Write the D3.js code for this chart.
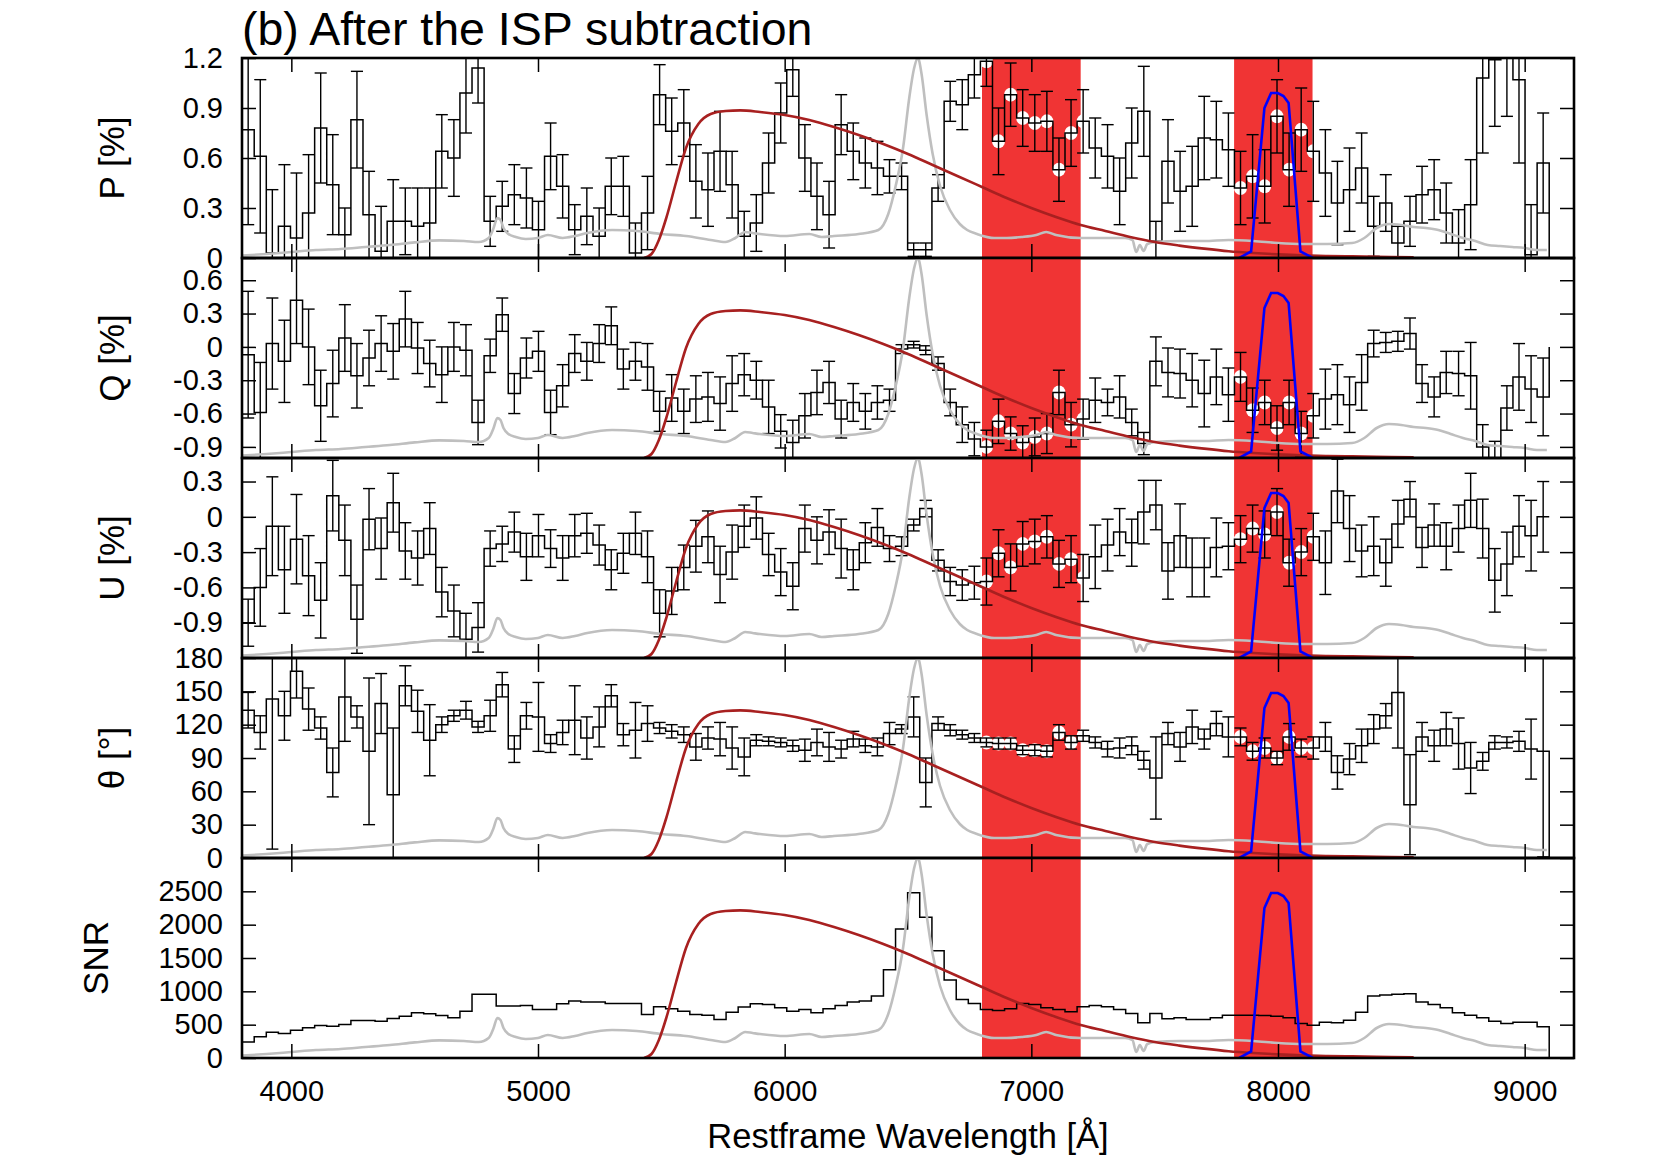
<!DOCTYPE html>
<html><head><meta charset="utf-8">
<script src="https://cdn.jsdelivr.net/npm/d3@7"></script>
<style>body{margin:0;background:#fff} text{font-family:"Liberation Sans",Arial,Helvetica,sans-serif;fill:#000}</style>
</head><body>
<svg id="c" width="1661" height="1163" xmlns="http://www.w3.org/2000/svg"></svg>
<script>
// ---------------- data ----------------
const binCenters = [3825,3874,3923,3972,4021,4070,4119,4168,4217,4266,4315,4364,4413,4462,4512,4561,4610,4659,4708,4757,4806,4855,4904,4953,5002,5051,5100,5149,5198,5248,5297,5346,5395,5444,5493,5542,5591,5640,5689,5738,5787,5836,5885,5935,5984,6033,6082,6131,6180,6229,6278,6327,6376,6425,6474,6523,6572,6622,6671,6720,6769,6818,6867,6916,6965,7014,7063,7112,7161,7210,7259,7309,7358,7407,7456,7505,7554,7603,7652,7701,7750,7799,7848,7897,7946,7996,8045,8094,8143,8192,8241,8290,8339,8388,8437,8486,8535,8584,8633,8682,8732,8781,8830,8879,8928,8977,9026,9075];

const pVal = [0.77,0.61,0.03,0.19,0.12,0.27,0.78,0.44,0.14,0.83,0.26,0.04,0.22,0.22,0.19,0.21,0.64,0.60,0.99,1.14,0.22,0.31,0.38,0.36,0.17,0.61,0.43,0.17,0.25,0.13,0.43,0.43,0.03,0.27,0.98,0.76,0.81,0.46,0.41,0.64,0.44,0.13,0.21,0.57,0.87,1.13,0.60,0.37,0.26,0.80,0.64,0.57,0.54,0.49,0.49,0.05,0.05,0.42,0.94,0.92,1.10,1.18,0.70,0.98,0.84,0.81,0.82,0.53,0.75,0.82,0.66,0.61,0.40,0.69,0.88,0.10,0.58,0.40,0.43,0.72,0.71,0.65,0.42,0.49,0.43,0.85,0.53,0.77,0.64,0.51,0.33,0.41,0.54,0.19,0.33,0.09,0.22,0.38,0.41,0.27,0.09,0.32,1.08,1.19,1.35,1.07,0.02,0.57];
const pErr = [0.57,0.46,0.38,0.37,0.39,0.35,0.33,0.30,0.16,0.29,0.26,0.27,0.25,0.20,0.23,0.21,0.22,0.23,0.24,0.21,0.15,0.15,0.18,0.18,0.17,0.20,0.19,0.15,0.17,0.17,0.17,0.18,0.18,0.22,0.18,0.20,0.20,0.22,0.22,0.24,0.20,0.15,0.17,0.18,0.18,0.16,0.20,0.20,0.20,0.18,0.17,0.15,0.16,0.10,0.08,0.04,0.04,0.08,0.12,0.15,0.14,0.15,0.20,0.19,0.17,0.17,0.18,0.19,0.20,0.19,0.18,0.19,0.20,0.21,0.27,0.12,0.25,0.24,0.24,0.25,0.23,0.22,0.22,0.25,0.22,0.22,0.22,0.25,0.30,0.26,0.25,0.25,0.21,0.18,0.17,0.10,0.15,0.17,0.18,0.18,0.20,0.27,0.45,0.40,0.50,0.50,0.30,0.30];

const qVal = [-0.07,-0.59,0.03,-0.13,0.42,0.00,-0.53,-0.33,0.08,-0.26,-0.10,0.03,-0.04,0.25,-0.01,-0.15,-0.25,0.00,-0.03,-0.68,-0.08,0.29,-0.42,-0.10,-0.04,-0.59,-0.35,-0.06,-0.13,0.03,0.19,-0.20,-0.13,-0.18,-0.58,-0.46,-0.58,-0.47,-0.45,-0.51,-0.33,-0.25,-0.30,-0.54,-0.76,-0.86,-0.62,-0.41,-0.32,-0.65,-0.50,-0.58,-0.50,-0.48,-0.02,0.02,-0.03,-0.15,-0.50,-0.70,-0.83,-0.90,-0.67,-0.78,-0.86,-0.81,-0.78,-0.41,-0.70,-0.65,-0.48,-0.50,-0.45,-0.68,-0.87,-0.13,-0.23,-0.24,-0.30,-0.42,-0.27,-0.43,-0.27,-0.57,-0.50,-0.73,-0.50,-0.78,-0.62,-0.47,-0.43,-0.52,-0.32,0.03,0.04,0.05,0.12,-0.33,-0.45,-0.23,-0.24,-0.26,-0.90,-1.05,-0.55,-0.27,-0.38,-0.45];
const qErr = [0.57,0.45,0.41,0.37,0.39,0.34,0.32,0.30,0.30,0.29,0.25,0.25,0.25,0.25,0.23,0.21,0.25,0.22,0.23,0.20,0.15,0.15,0.18,0.18,0.18,0.20,0.19,0.17,0.17,0.17,0.17,0.18,0.17,0.21,0.18,0.21,0.20,0.21,0.22,0.24,0.25,0.19,0.17,0.24,0.15,0.20,0.20,0.20,0.19,0.17,0.17,0.16,0.15,0.10,0.04,0.03,0.04,0.06,0.12,0.16,0.15,0.15,0.20,0.15,0.15,0.17,0.18,0.20,0.20,0.18,0.20,0.12,0.19,0.12,0.10,0.22,0.22,0.22,0.24,0.30,0.25,0.24,0.22,0.20,0.20,0.20,0.20,0.20,0.20,0.27,0.27,0.25,0.25,0.12,0.09,0.09,0.14,0.17,0.18,0.19,0.20,0.30,0.20,0.20,0.20,0.30,0.30,0.35];

const uVal = [-0.90,-0.60,-0.08,-0.45,-0.19,-0.50,-0.71,0.18,-0.20,-0.87,-0.02,-0.27,0.12,-0.29,-0.35,-0.10,-0.64,-0.80,-1.04,-0.94,-0.27,-0.23,-0.13,-0.34,-0.16,-0.27,-0.35,-0.16,-0.14,-0.24,-0.45,-0.31,-0.14,-0.34,-0.82,-0.63,-0.43,-0.25,-0.17,-0.49,-0.30,-0.08,-0.01,-0.32,-0.47,-0.59,-0.10,-0.20,-0.13,-0.27,-0.45,-0.22,-0.09,-0.27,-0.25,-0.07,0.07,-0.37,-0.55,-0.58,-0.56,-0.55,-0.31,-0.43,-0.23,-0.21,-0.17,-0.40,-0.36,-0.52,-0.34,-0.24,-0.13,-0.22,0.04,0.10,-0.46,-0.16,-0.43,-0.43,-0.26,-0.25,-0.19,-0.10,-0.15,0.04,-0.39,-0.30,-0.17,-0.39,0.22,-0.10,-0.29,-0.25,-0.39,-0.06,0.15,-0.26,-0.07,-0.25,-0.10,0.14,-0.10,-0.54,-0.40,-0.08,-0.16,0.00];
const uErr = [0.20,0.33,0.42,0.37,0.38,0.34,0.32,0.30,0.30,0.29,0.26,0.26,0.25,0.24,0.23,0.22,0.21,0.22,0.22,0.21,0.15,0.15,0.17,0.20,0.18,0.16,0.19,0.18,0.17,0.17,0.17,0.17,0.18,0.22,0.20,0.20,0.19,0.22,0.22,0.24,0.23,0.18,0.18,0.18,0.20,0.20,0.20,0.20,0.19,0.25,0.17,0.17,0.16,0.11,0.08,0.05,0.07,0.09,0.12,0.13,0.14,0.20,0.20,0.20,0.19,0.19,0.18,0.20,0.20,0.20,0.27,0.22,0.20,0.20,0.27,0.21,0.24,0.27,0.25,0.25,0.25,0.20,0.20,0.20,0.20,0.20,0.20,0.20,0.20,0.27,0.27,0.28,0.22,0.25,0.20,0.20,0.15,0.17,0.18,0.20,0.20,0.23,0.25,0.27,0.27,0.26,0.30,0.30];

const thVal = [133,113,143,128,168,134,117,77,145,127,96,139,57,155,132,106,120,128,133,118,128,156,98,128,127,103,113,124,108,118,146,111,115,121,117,114,111,100,108,107,99,91,106,105,104,101,97,104,100,98,107,101,100,112,116,127,68,121,115,111,108,104,103,103,97,97,96,113,104,110,104,98,99,101,88,72,112,100,118,107,121,109,109,96,99,90,109,99,99,109,77,89,101,116,128,149,48,109,101,116,103,81,87,104,104,105,98,96];
const thErr = [16,15,135,22,24,19,10,22,40,10,66,27,60,18,19,32,7,5,8,5,14,11,12,12,31,8,11,31,19,18,10,10,25,16,5,6,7,12,10,15,19,17,5,4,4,5,10,12,13,8,7,6,8,10,4,18,22,6,5,4,4,4,5,5,4,5,5,7,6,5,5,7,9,8,8,37,10,13,15,9,11,18,8,8,9,6,12,8,10,13,15,14,15,13,11,50,45,13,14,15,23,23,8,6,5,9,27,95];

const snrVal = [241,317,387,367,417,452,487,477,503,563,563,553,593,628,678,663,638,603,703,955,955,779,779,789,729,729,814,854,839,839,819,819,819,653,769,739,703,653,643,578,688,764,814,804,754,703,729,678,739,789,839,854,930,1322,1935,2477,2110,1608,1171,879,819,729,714,739,819,804,754,729,693,769,789,769,729,668,528,668,588,603,578,578,603,643,643,643,638,628,603,518,493,538,528,568,688,930,945,955,965,839,804,754,678,643,603,553,518,538,538,467];

// bins marked with white circles (inside the red bands)
const circledBins = [61,62,63,64,65,66,67,68,69,82,83,84,85,86,87,88];
const bands = [[6800, 7200], [7822, 8140]];

// scaled total-flux spectrum (grey), peak normalised to 1
const fluxWave = [3800,3900,4000,4100,4200,4300,4400,4500,4600,4700,4760,4800,4820,4835,4848,4860,4880,4910,4950,5000,5040,5100,5150,5200,5300,5400,5500,5600,5700,5760,5800,5840,5870,5900,6000,6100,6150,6200,6300,6380,6420,6450,6480,6505,6525,6540,6555,6575,6600,6630,6670,6710,6740,6780,6850,6900,6960,7020,7060,7100,7200,7300,7380,7410,7425,7440,7455,7470,7500,7600,7700,7800,7900,8000,8100,8200,8300,8350,8400,8450,8500,8550,8600,8650,8700,8750,8800,8850,8900,8950,9000,9050,9090];
const fluxVal = [0.012,0.02,0.03,0.04,0.045,0.055,0.065,0.078,0.088,0.085,0.08,0.1,0.15,0.2,0.19,0.15,0.12,0.105,0.095,0.1,0.115,0.1,0.11,0.125,0.14,0.135,0.12,0.11,0.09,0.08,0.1,0.13,0.125,0.12,0.11,0.12,0.105,0.11,0.12,0.14,0.22,0.36,0.55,0.8,0.95,1.0,0.92,0.72,0.52,0.36,0.24,0.17,0.14,0.12,0.1,0.1,0.105,0.115,0.13,0.115,0.1,0.1,0.1,0.09,0.03,0.065,0.035,0.07,0.08,0.085,0.085,0.09,0.085,0.075,0.07,0.07,0.075,0.1,0.15,0.17,0.165,0.155,0.15,0.14,0.12,0.1,0.085,0.065,0.06,0.055,0.05,0.04,0.04];

// broad filter transmission (dark red)
const redWave = [5430,5460,5490,5520,5560,5600,5650,5700,5760,5820,5900,6000,6100,6200,6300,6400,6500,6600,6700,6800,6900,7000,7100,7200,7300,7400,7500,7600,7700,7800,7900,8000,8100,8200,8300,8400,8550];
const redVal = [0,0.02,0.09,0.2,0.38,0.55,0.67,0.72,0.735,0.738,0.73,0.715,0.69,0.655,0.615,0.57,0.52,0.465,0.41,0.355,0.3,0.25,0.205,0.165,0.135,0.105,0.08,0.062,0.047,0.034,0.025,0.018,0.013,0.01,0.008,0.006,0.004];

// narrow filter transmission (blue)
const blueWave = [7843,7891,7945,7972,7999,8022,8043,8091,8141];
const blueVal = [0,0.033,0.75,0.825,0.825,0.81,0.775,0.033,0];

const xTicks = [4000,5000,6000,7000,8000,9000];
const pTicks = [0,0.3,0.6,0.9,1.2];
const qTicks = [-0.9,-0.6,-0.3,0,0.3,0.6];
const uTicks = [-0.9,-0.6,-0.3,0,0.3];
const thTicks = [0,30,60,90,120,150,180];
const snrTicks = [0,500,1000,1500,2000,2500];

// ---------------- drawing ----------------
const svg = d3.select("#c");
const L = 242, R = 1574, T = 58, PH = 200;
const FONT = "Liberation Sans, Arial, Helvetica, sans-serif";
const x = d3.scaleLinear().domain([3800, 9200]).range([L, R]);
const fmt = d => String(+(+d).toFixed(1));

const panels = [
  {label:"P [%]", dom:[0,1.2], ticks:pTicks, val:pVal, err:pErr, lx:124},
  {label:"Q [%]", dom:[-1.0,0.8], ticks:qTicks, val:qVal, err:qErr, lx:124},
  {label:"U [%]", dom:[-1.2,0.5], ticks:uTicks, val:uVal, err:uErr, lx:124},
  {label:"θ [°]", dom:[0,180], ticks:thTicks, val:thVal, err:thErr, lx:124},
  {label:"SNR", dom:[0,3000], ticks:snrTicks, val:snrVal, err:null, lx:108}
];

// bin edges from centres
const edges = [binCenters[0] - (binCenters[1]-binCenters[0])/2];
for (let i = 0; i < binCenters.length - 1; i++) edges.push((binCenters[i] + binCenters[i+1]) / 2);
edges.push(binCenters[binCenters.length-1] + (binCenters[binCenters.length-1] - binCenters[binCenters.length-2]) / 2);

const defs = svg.append("defs");

panels.forEach((p, i) => {
  const y0 = T + PH*i, y1 = y0 + PH;
  const y = d3.scaleLinear().domain(p.dom).range([y1, y0]);
  const f = d3.scaleLinear().domain([0,1]).range([y1, y0]);
  const cid = "clip" + i;
  defs.append("clipPath").attr("id", cid).append("rect")
    .attr("x", L).attr("y", y0).attr("width", R-L).attr("height", PH);
  const g = svg.append("g").attr("clip-path", `url(#${cid})`);

  // red bands
  g.selectAll("rect.band").data(bands).join("rect").attr("class","band")
    .attr("x", d => x(d[0])).attr("width", d => x(d[1]) - x(d[0]))
    .attr("y", y0).attr("height", PH).attr("fill", "#f03434");

  // white circles
  if (p.err) {
    g.selectAll("ellipse").data(circledBins).join("ellipse")
      .attr("cx", k => x(binCenters[k])).attr("cy", k => y(p.val[k]))
      .attr("rx", 6.5).attr("ry", 7).attr("fill", "#fff");
  }

  // histogram steps
  let d = `M${x(edges[0])},${y(p.val[0])}`;
  p.val.forEach((v, k) => {
    if (k > 0) d += `V${y(v)}`;
    d += `H${x(edges[k+1])}`;
  });
  d += `V${y(0)}`;
  g.append("path").attr("d", d).attr("fill","none").attr("stroke","#000").attr("stroke-width",1.5);

  // error bars
  if (p.err) {
    const eb = g.append("g").attr("stroke","#000").attr("stroke-width",1.4).attr("fill","none");
    p.val.forEach((v, k) => {
      const e = p.err[k];
      const cx = x(binCenters[k]);
      const hw = (x(edges[k+1]) - x(edges[k])) / 2;
      eb.append("line").attr("x1",cx).attr("x2",cx).attr("y1",y(v-e)).attr("y2",y(v+e));
      eb.append("line").attr("x1",cx-hw).attr("x2",cx+hw).attr("y1",y(v-e)).attr("y2",y(v-e));
      eb.append("line").attr("x1",cx-hw).attr("x2",cx+hw).attr("y1",y(v+e)).attr("y2",y(v+e));
    });
  }

  // grey flux spectrum
  const flux = fluxWave.map((w, j) => [w, fluxVal[j]]);
  g.append("path").datum(flux)
    .attr("d", d3.line().x(q => x(q[0])).y(q => f(q[1])).curve(d3.curveMonotoneX))
    .attr("fill","none").attr("stroke","#bfbfbf").attr("stroke-width",2.6);

  // red filter curve
  const red = redWave.map((w, j) => [w, redVal[j]]);
  g.append("path").datum(red)
    .attr("d", d3.line().x(q => x(q[0])).y(q => f(q[1])).curve(d3.curveMonotoneX))
    .attr("fill","none").attr("stroke","#a82020").attr("stroke-width",2.6);

  // blue filter curve
  const blue = blueWave.map((w, j) => [w, blueVal[j]]);
  g.append("path").datum(blue)
    .attr("d", d3.line().x(q => x(q[0])).y(q => f(q[1])))
    .attr("fill","none").attr("stroke","#0000ff").attr("stroke-width",2.6);

  // axes (inward ticks)
  const ax = svg.append("g");
  const la = ax.append("g").attr("transform", `translate(${L},0)`)
    .call(d3.axisLeft(y).tickValues(p.ticks).tickSize(-14).tickPadding(19).tickFormat(fmt));
  const ra = ax.append("g").attr("transform", `translate(${R},0)`)
    .call(d3.axisRight(y).tickValues(p.ticks).tickSize(-14).tickFormat(""));
  const ta = ax.append("g").attr("transform", `translate(0,${y0})`)
    .call(d3.axisTop(x).tickValues(xTicks).tickSize(-14).tickFormat(""));
  const ba = ax.append("g").attr("transform", `translate(0,${y1})`)
    .call(d3.axisBottom(x).tickValues(xTicks).tickSize(-14).tickPadding(22)
      .tickFormat(i === panels.length - 1 ? d3.format("d") : ""));
  [la, ra, ta, ba].forEach(a => {
    a.attr("font-size", 29).attr("font-family", FONT);
    a.select(".domain").remove();
    a.selectAll(".tick line").attr("stroke","#000").attr("stroke-width",1.5);
    a.selectAll(".tick text").attr("fill","#000");
  });

  // frame
  svg.append("rect").attr("x", L).attr("y", y0).attr("width", R-L).attr("height", PH)
    .attr("fill","none").attr("stroke","#000").attr("stroke-width",2.6);

  // y label
  svg.append("text").attr("transform", `translate(${p.lx},${(y0+y1)/2}) rotate(-90)`)
    .attr("text-anchor","middle").attr("font-size", 35).text(p.label);
});

svg.append("text").attr("x", L).attr("y", 45).attr("font-size", 46.5)
  .text("(b) After the ISP subtraction");
svg.append("text").attr("x", (L+R)/2).attr("y", 1148).attr("text-anchor","middle")
  .attr("font-size", 34.5).text("Restframe Wavelength [Å]");
</script>
</body></html>
